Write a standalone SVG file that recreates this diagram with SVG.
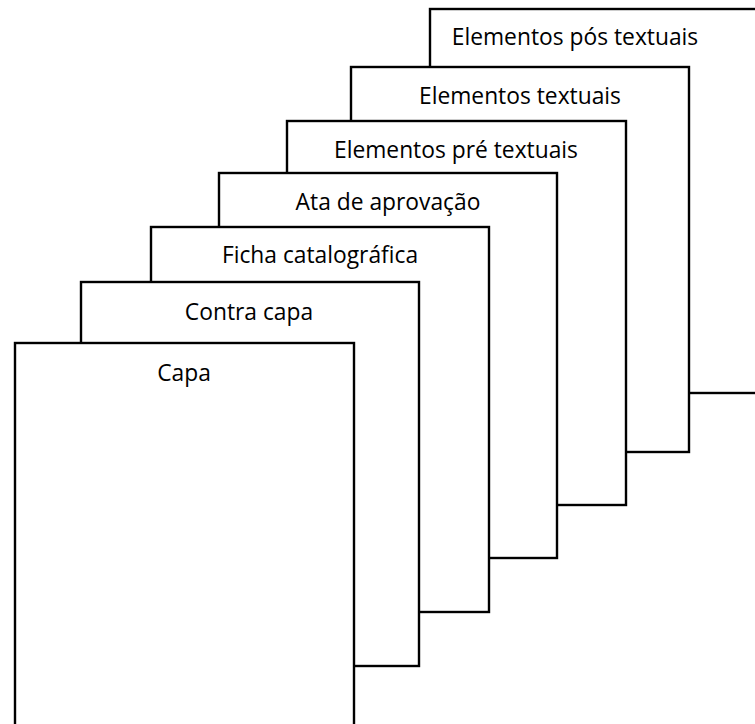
<svg xmlns="http://www.w3.org/2000/svg" width="755" height="724" viewBox="0 0 755 724">
<style>
.page{fill:#fff;stroke:#000;stroke-width:2.4}
.lbl{font-family:"Open Sans","Liberation Sans",sans-serif;font-size:22.8px;fill:#000;text-anchor:middle}
</style>
<rect width="755" height="724" fill="#fff"/>
<g id="pos"><rect class="page" x="430" y="9" width="340" height="384"/><text class="lbl" x="575" y="45">Elementos pós textuais</text></g>
<g id="textuais"><rect class="page" x="351" y="67" width="338" height="385"/><text class="lbl" x="520" y="104">Elementos textuais</text></g>
<g id="pre"><rect class="page" x="287" y="121" width="339" height="384"/><text class="lbl" x="456" y="158">Elementos pré textuais</text></g>
<g id="ata"><rect class="page" x="219" y="173" width="338" height="385"/><text class="lbl" x="388" y="210">Ata de aprovação</text></g>
<g id="ficha"><rect class="page" x="151" y="227" width="338" height="385"/><text class="lbl" x="320" y="263">Ficha catalográfica</text></g>
<g id="contra"><rect class="page" x="81" y="282" width="338" height="384"/><text class="lbl" x="249" y="320">Contra capa</text></g>
<g id="capa"><rect class="page" x="15" y="343" width="339" height="400"/><text class="lbl" x="184" y="381">Capa</text></g>
<g id="connectors"></g>
</svg>
